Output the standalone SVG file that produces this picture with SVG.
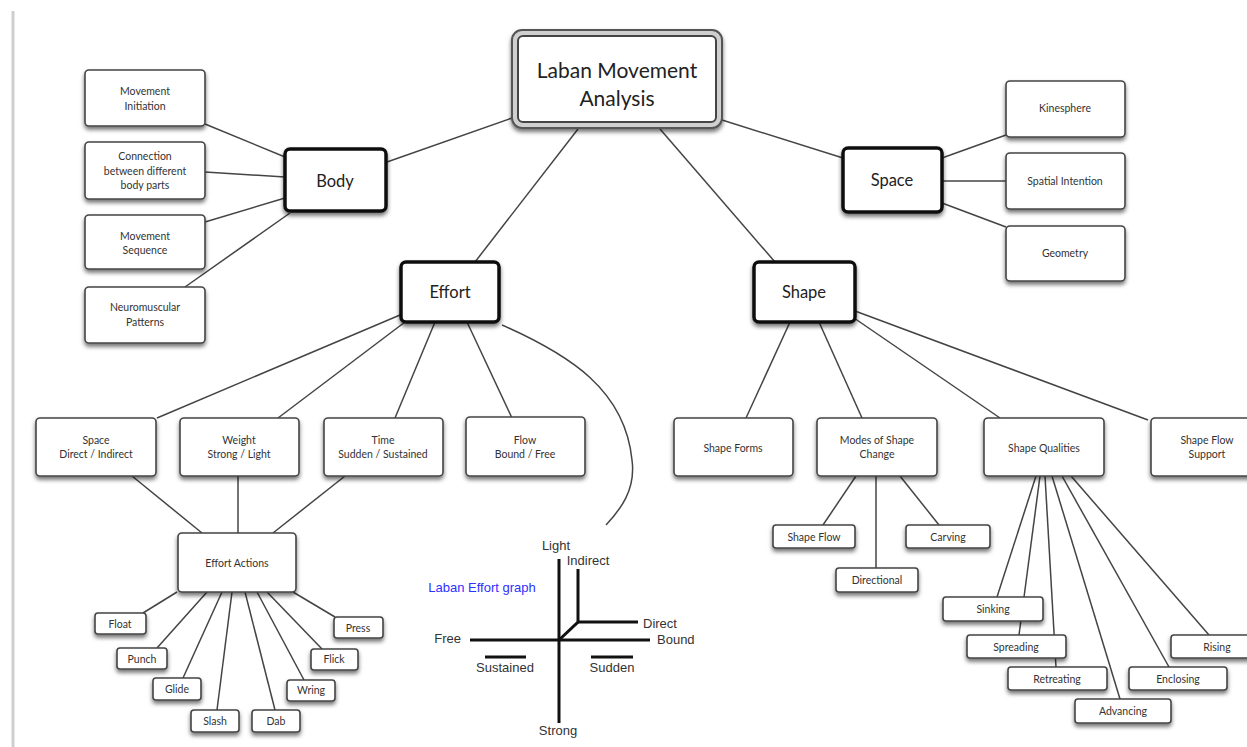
<svg xmlns="http://www.w3.org/2000/svg" width="1247" height="747" viewBox="0 0 1247 747">
<defs>
<filter id="sh" x="-20%" y="-20%" width="140%" height="160%">
<feDropShadow dx="0" dy="3" stdDeviation="2" flood-color="#000" flood-opacity="0.55"/>
</filter>
<style>
.bx{fill:#fff;stroke:#444;stroke-width:1.6;filter:url(#sh)}
.bk{fill:#fff;stroke:#111;stroke-width:3.5;filter:url(#sh)}
.t{font-family:Lato,"Open Sans","Liberation Sans",sans-serif;font-size:10.5px;fill:#333;text-anchor:middle;dominant-baseline:central}
.tb{font-family:Lato,"Open Sans","Liberation Sans",sans-serif;font-size:16.5px;fill:#222;text-anchor:middle;dominant-baseline:central}
.tr{font-family:Lato,"Open Sans","Liberation Sans",sans-serif;font-size:21px;fill:#222;text-anchor:middle;dominant-baseline:central}
.c{stroke:#444;stroke-width:1.5;fill:none}
.g{stroke:#111;stroke-width:3;fill:none}
.gt{font-family:"Liberation Sans",Arial,sans-serif;font-size:13px;fill:#333;dominant-baseline:central}
</style>
</defs>
<rect width="1247" height="747" fill="#fff"/>
<line x1="13" y1="11" x2="13" y2="747" stroke="#cfcfcf" stroke-width="3"/>

<g id="connectors">
<line class="c" x1="387" y1="162" x2="512" y2="118"/>
<line class="c" x1="578" y1="129" x2="475" y2="262"/>
<line class="c" x1="660" y1="129" x2="775" y2="262"/>
<line class="c" x1="722" y1="120" x2="843" y2="158"/>
<line class="c" x1="205" y1="124" x2="285" y2="157"/>
<line class="c" x1="205" y1="172" x2="285" y2="177"/>
<line class="c" x1="205" y1="222" x2="285" y2="198"/>
<line class="c" x1="185" y1="287" x2="290" y2="213"/>
<line class="c" x1="942" y1="158" x2="1006" y2="135"/>
<line class="c" x1="942" y1="181" x2="1006" y2="181"/>
<line class="c" x1="942" y1="203" x2="1006" y2="227"/>
<line class="c" x1="400" y1="315" x2="157" y2="418"/>
<line class="c" x1="405" y1="322" x2="278" y2="418"/>
<line class="c" x1="435" y1="322" x2="395" y2="418"/>
<line class="c" x1="467" y1="322" x2="512" y2="418"/>
<path class="c" d="M502,325 C570,355 625,390 632,460 C636,490 620,510 606,525"/>
<line class="c" x1="132" y1="476" x2="202" y2="533"/>
<line class="c" x1="238" y1="476" x2="238" y2="533"/>
<line class="c" x1="345" y1="476" x2="273" y2="533"/>
<line class="c" x1="177" y1="592" x2="143" y2="613"/>
<line class="c" x1="207" y1="592" x2="157" y2="648"/>
<line class="c" x1="222" y1="592" x2="183" y2="678"/>
<line class="c" x1="232" y1="592" x2="217" y2="710"/>
<line class="c" x1="245" y1="592" x2="275" y2="710"/>
<line class="c" x1="257" y1="592" x2="304" y2="680"/>
<line class="c" x1="267" y1="592" x2="322" y2="649"/>
<line class="c" x1="293" y1="592" x2="335" y2="617"/>
<line class="c" x1="790" y1="322" x2="746" y2="418"/>
<line class="c" x1="819" y1="322" x2="862" y2="418"/>
<line class="c" x1="854" y1="318" x2="1000" y2="418"/>
<line class="c" x1="855" y1="311" x2="1148" y2="420"/>
<line class="c" x1="856" y1="476" x2="823" y2="525"/>
<line class="c" x1="876" y1="476" x2="876" y2="568"/>
<line class="c" x1="900" y1="476" x2="939" y2="525"/>
<line class="c" x1="1036" y1="476" x2="997" y2="597"/>
<line class="c" x1="1040" y1="476" x2="1019" y2="635"/>
<line class="c" x1="1045" y1="476" x2="1056" y2="667"/>
<line class="c" x1="1052" y1="476" x2="1120" y2="699"/>
<line class="c" x1="1062" y1="476" x2="1169" y2="667"/>
<line class="c" x1="1071" y1="476" x2="1209" y2="635"/>
</g>

<g id="root">
<rect x="512" y="30" width="210" height="98" rx="10" fill="#cfcfcf" stroke="#555" stroke-width="2" filter="url(#sh)"/>
<rect x="518" y="36" width="198" height="86" rx="5" fill="#fff" stroke="#444" stroke-width="2"/>
<text class="tr" x="617" y="69">Laban Movement</text>
<text class="tr" x="617" y="97">Analysis</text>
</g>

<g id="body"><rect class="bk" x="285" y="149" width="101" height="62" rx="5"/><text class="tb" x="335" y="181">Body</text></g>
<g id="space"><rect class="bk" x="843" y="148" width="99" height="64" rx="5"/><text class="tb" x="892" y="180">Space</text></g>
<g id="effort"><rect class="bk" x="401" y="262" width="98" height="60" rx="5"/><text class="tb" x="450" y="292">Effort</text></g>
<g id="shape"><rect class="bk" x="754" y="262" width="101" height="60" rx="5"/><text class="tb" x="804" y="292">Shape</text></g>

<g id="movement-initiation"><rect class="bx" x="85" y="70" width="120" height="56" rx="4"/><text class="t" x="145" y="91">Movement</text><text class="t" x="145" y="106">Initiation</text></g>
<g id="connection"><rect class="bx" x="85" y="142" width="120" height="57" rx="4"/><text class="t" x="145" y="156">Connection</text><text class="t" x="145" y="171">between different</text><text class="t" x="145" y="185">body parts</text></g>
<g id="movement-sequence"><rect class="bx" x="85" y="215" width="120" height="54" rx="4"/><text class="t" x="145" y="236">Movement</text><text class="t" x="145" y="250">Sequence</text></g>
<g id="neuromuscular"><rect class="bx" x="85" y="287" width="120" height="56" rx="4"/><text class="t" x="145" y="307">Neuromuscular</text><text class="t" x="145" y="322">Patterns</text></g>

<g id="kinesphere"><rect class="bx" x="1006" y="81" width="119" height="56" rx="4"/><text class="t" x="1065" y="108">Kinesphere</text></g>
<g id="spatial-intention"><rect class="bx" x="1006" y="153" width="119" height="56" rx="4"/><text class="t" x="1065" y="181">Spatial Intention</text></g>
<g id="geometry"><rect class="bx" x="1006" y="226" width="119" height="55" rx="4"/><text class="t" x="1065" y="253">Geometry</text></g>

<g id="effort-space"><rect class="bx" x="36" y="418" width="120" height="58" rx="4"/><text class="t" x="96" y="440">Space</text><text class="t" x="96" y="454">Direct / Indirect</text></g>
<g id="effort-weight"><rect class="bx" x="180" y="418" width="119" height="58" rx="4"/><text class="t" x="239" y="440">Weight</text><text class="t" x="239" y="454">Strong / Light</text></g>
<g id="effort-time"><rect class="bx" x="324" y="418" width="119" height="58" rx="4"/><text class="t" x="383" y="440">Time</text><text class="t" x="383" y="454">Sudden / Sustained</text></g>
<g id="effort-flow"><rect class="bx" x="466" y="417" width="119" height="59" rx="4"/><text class="t" x="525" y="440">Flow</text><text class="t" x="525" y="454">Bound / Free</text></g>

<g id="effort-actions"><rect class="bx" x="178" y="533" width="118" height="59" rx="4"/><text class="t" x="237" y="563">Effort Actions</text></g>
<g id="float"><rect class="bx" x="95" y="613" width="51" height="21" rx="3"/><text class="t" x="120" y="624">Float</text></g>
<g id="punch"><rect class="bx" x="117" y="648" width="50" height="21" rx="3"/><text class="t" x="142" y="659">Punch</text></g>
<g id="glide"><rect class="bx" x="153" y="678" width="48" height="22" rx="3"/><text class="t" x="177" y="689">Glide</text></g>
<g id="slash"><rect class="bx" x="191" y="710" width="48" height="22" rx="3"/><text class="t" x="215" y="721">Slash</text></g>
<g id="dab"><rect class="bx" x="252" y="710" width="48" height="22" rx="3"/><text class="t" x="276" y="721">Dab</text></g>
<g id="wring"><rect class="bx" x="287" y="680" width="48" height="21" rx="3"/><text class="t" x="311" y="690">Wring</text></g>
<g id="flick"><rect class="bx" x="311" y="649" width="47" height="21" rx="3"/><text class="t" x="334" y="659">Flick</text></g>
<g id="press"><rect class="bx" x="334" y="617" width="49" height="21" rx="3"/><text class="t" x="358" y="628">Press</text></g>

<g id="effort-graph">
<line class="g" x1="559" y1="559" x2="559" y2="723"/>
<line class="g" x1="470" y1="640" x2="650" y2="640"/>
<polyline class="g" points="559,640 578,622 578,569"/>
<line class="g" x1="578" y1="622" x2="638" y2="622"/>
<line class="g" x1="485" y1="657" x2="526" y2="657"/>
<line class="g" x1="591" y1="657" x2="633" y2="657"/>
<text class="gt" x="556" y="545" text-anchor="middle">Light</text>
<text class="gt" x="588" y="560" text-anchor="middle">Indirect</text>
<text class="gt" x="482" y="587" text-anchor="middle" style="fill:#3030ff">Laban Effort graph</text>
<text class="gt" x="643" y="623">Direct</text>
<text class="gt" x="657" y="639">Bound</text>
<text class="gt" x="461" y="638" text-anchor="end">Free</text>
<text class="gt" x="505" y="667" text-anchor="middle">Sustained</text>
<text class="gt" x="612" y="667" text-anchor="middle">Sudden</text>
<text class="gt" x="558" y="730" text-anchor="middle">Strong</text>
</g>

<g id="shape-forms"><rect class="bx" x="674" y="418" width="119" height="58" rx="4"/><text class="t" x="733" y="448">Shape Forms</text></g>
<g id="modes"><rect class="bx" x="817" y="418" width="120" height="58" rx="4"/><text class="t" x="877" y="440">Modes of Shape</text><text class="t" x="877" y="454">Change</text></g>
<g id="shape-qualities"><rect class="bx" x="984" y="418" width="120" height="58" rx="4"/><text class="t" x="1044" y="448">Shape Qualities</text></g>
<g id="shape-flow-support"><rect class="bx" x="1151" y="418" width="118" height="58" rx="4"/><text class="t" x="1207" y="440">Shape Flow</text><text class="t" x="1207" y="454">Support</text></g>

<g id="shape-flow"><rect class="bx" x="773" y="525" width="82" height="23" rx="3"/><text class="t" x="814" y="537">Shape Flow</text></g>
<g id="carving"><rect class="bx" x="906" y="525" width="84" height="23" rx="3"/><text class="t" x="948" y="537">Carving</text></g>
<g id="directional"><rect class="bx" x="836" y="568" width="82" height="24" rx="3"/><text class="t" x="877" y="580">Directional</text></g>

<g id="sinking"><rect class="bx" x="943" y="597" width="100" height="24" rx="3"/><text class="t" x="993" y="609">Sinking</text></g>
<g id="spreading"><rect class="bx" x="967" y="635" width="99" height="23" rx="3"/><text class="t" x="1016" y="647">Spreading</text></g>
<g id="retreating"><rect class="bx" x="1008" y="667" width="99" height="23" rx="3"/><text class="t" x="1057" y="679">Retreating</text></g>
<g id="advancing"><rect class="bx" x="1075" y="699" width="96" height="24" rx="3"/><text class="t" x="1123" y="711">Advancing</text></g>
<g id="enclosing"><rect class="bx" x="1129" y="667" width="98" height="23" rx="3"/><text class="t" x="1178" y="679">Enclosing</text></g>
<g id="rising"><rect class="bx" x="1171" y="635" width="94" height="23" rx="3"/><text class="t" x="1217" y="647">Rising</text></g>
</svg>
